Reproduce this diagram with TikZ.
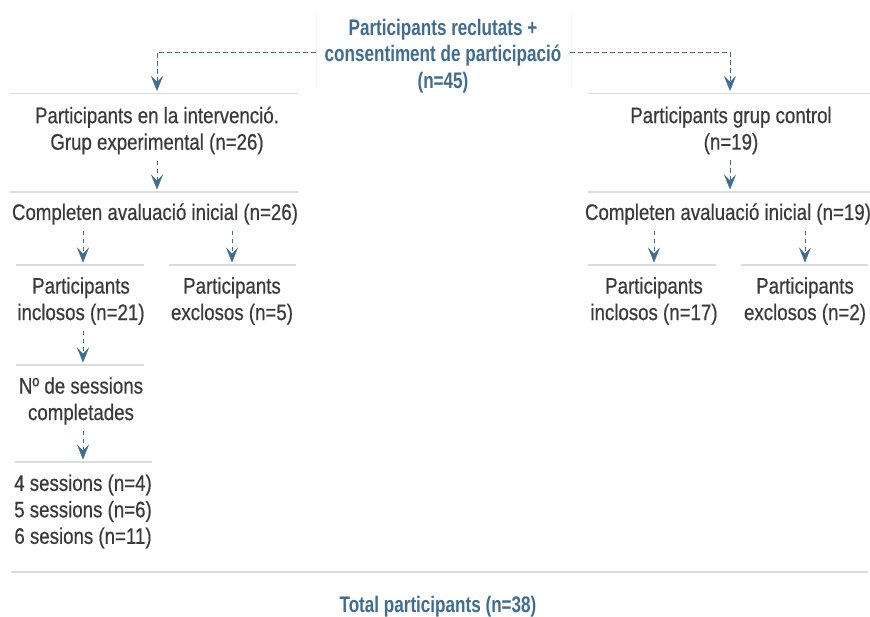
\documentclass[tikz,border=0pt]{standalone}
\usepackage{fontspec}
\setmainfont{Liberation Sans}[FakeStretch=0.83,FakeBold=0.5]
\newfontfamily\titlefont{Liberation Sans}[FakeStretch=0.76]
\usetikzlibrary{arrows.meta}
\definecolor{tblue}{HTML}{3E6C92}
\definecolor{tgray}{HTML}{3A3A3A}
\definecolor{rulec}{HTML}{DCDCDC}
\definecolor{faintc}{HTML}{F4F4F4}
\begin{document}
\begin{tikzpicture}[x=1pt,y=-1pt,
  txt/.style={align=center, inner sep=0pt, text=tgray, font=\fontsize{22.5}{26.5}\selectfont},
  head/.style={align=center, inner sep=0pt, text=tblue, font=\titlefont\bfseries\fontsize{22.5}{26.5}\selectfont},
  conn/.style={draw=tblue, line width=1pt, dash pattern=on 4.5pt off 3.5pt, -{Stealth[length=15pt,width=12pt,inset=6pt,fill=tblue,line width=0.5pt,sep=0pt]}},
  rulel/.style={draw=rulec, line width=1.5pt},
  faint/.style={draw=faintc, line width=1pt}]
\useasboundingbox (0,0) rectangle (870,616);
% nodes
\node[head, minimum width=254pt] (title) at (443,56) {Participants reclutats +\\consentiment de participació\\(n=45)};
\node[txt] (exp) at (157,130.5) {Participants en la intervenció.\\Grup experimental (n=26)};
\node[txt] (ctrl) at (731,130.5) {Participants grup control\\(n=19)};
\node[txt] (inie) at (155,214) {Completen avaluació inicial (n=26)};
\node[txt] (inic) at (728,214) {Completen avaluació inicial (n=19)};
\node[txt] (incE) at (81,301) {Participants\\inclosos (n=21)};
\node[txt] (excE) at (232,301) {Participants\\exclosos (n=5)};
\node[txt] (incC) at (654,301) {Participants\\inclosos (n=17)};
\node[txt] (excC) at (805,301) {Participants\\exclosos (n=2)};
\node[txt] (ses) at (81,401) {Nº de sessions\\completades};
\node[txt] (res) at (83,511.5) {4 sessions (n=4)\\5 sessions (n=6)\\6 sesions (n=11)};
\node[head] (total) at (438,607) {Total participants (n=38)};
% faint edges of the title box
\draw[faint] (316,13) -- (316,88);
\draw[faint] (571,13) -- (571,88);
% rules
\draw[rulel] (10,93.5) -- (298,93.5);
\draw[rulel] (588,93.5) -- (870,93.5);
\draw[rulel] (10,192) -- (298,192);
\draw[rulel] (588,192) -- (870,192);
\draw[rulel] (16,265) -- (144,265);
\draw[rulel] (169,265) -- (296,265);
\draw[rulel] (588,265) -- (716,265);
\draw[rulel] (741,265) -- (868,265);
\draw[rulel] (16,365) -- (144,365);
\draw[rulel] (15,462) -- (152,462);
\draw[rulel] (11,572) -- (868,572);
% arrow tips
\coordinate (tE) at (157,91);
\coordinate (tC) at (730,91);
\coordinate (tE2) at (157,189.5);
\coordinate (tC2) at (730,189.5);
\coordinate (tEi) at (83,262.5);
\coordinate (tEx) at (232,262.5);
\coordinate (tCi) at (654,262.5);
\coordinate (tCx) at (805,262.5);
\coordinate (tS) at (83,362.5);
\coordinate (tR) at (83,459.5);
% connectors
\draw[conn] (title.west |- 0,52) -| (tE);
\draw[conn] (title.east |- 0,52) -| (tC);
\draw[conn,shorten <=6pt] (exp.south -| tE2) -- (tE2);
\draw[conn,shorten <=6pt] (ctrl.south -| tC2) -- (tC2);
\draw[conn,shorten <=6pt] (inie.south -| tEi) -- (tEi);
\draw[conn,shorten <=6pt] (inie.south -| tEx) -- (tEx);
\draw[conn,shorten <=6pt] (inic.south -| tCi) -- (tCi);
\draw[conn,shorten <=6pt] (inic.south -| tCx) -- (tCx);
\draw[conn,shorten <=6pt] (incE.south -| tS) -- (tS);
\draw[conn,shorten <=6pt] (ses.south -| tR) -- (tR);
\end{tikzpicture}
\end{document}
